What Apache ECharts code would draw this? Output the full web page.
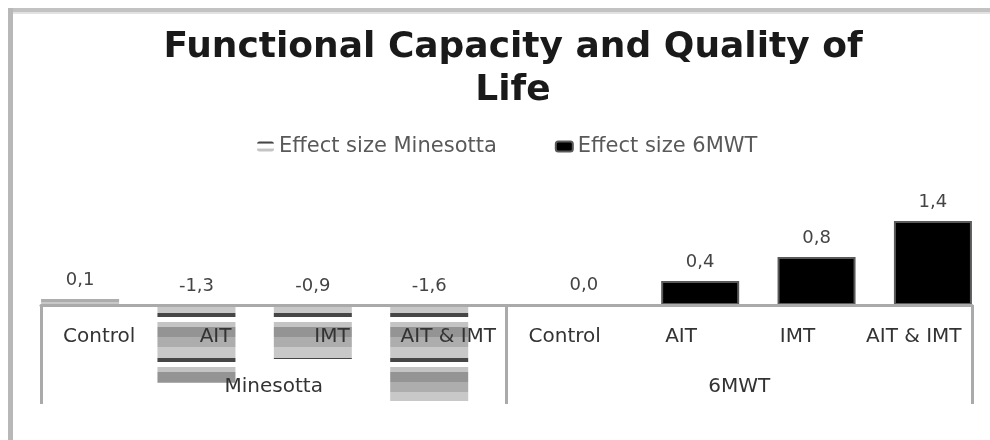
<!DOCTYPE html>
<html>
<head>
<meta charset="utf-8">
<script src="https://cdn.jsdelivr.net/npm/echarts@6/dist/echarts.min.js"></script>
<style>
  html, body { margin: 0; padding: 0; background: #fff; }
  #chart { width: 990px; height: 440px; }
</style>
</head>
<body>
<div id="chart"></div>
<script>
// chart data
var categories = ['Control', 'AIT', 'IMT', 'AIT & IMT', 'Control', 'AIT', 'IMT', 'AIT & IMT'];
var groups = ['Minesotta', '6MWT'];
var minesotta = [0.1, -1.3, -0.9, -1.6, null, null, null, null];
var sixMWT = [null, null, null, null, 0.0, 0.4, 0.8, 1.4];

// striped fill like the excel pattern (45px period, anchored to the canvas)
function stripes() {
  var c = document.createElement('canvas');
  c.width = 8;
  c.height = 45;
  var ctx = c.getContext('2d');
  for (var r = 0; r < 45; r++) {
    var d = (r + 2) % 45;
    var col = '#c8c8c8';
    if (d < 4) col = '#464646';
    else if (d < 9) col = '#ffffff';
    else if (d < 14) col = '#c4c4c4';
    else if (d < 24) col = '#949494';
    else if (d < 34) col = '#adadad';
    ctx.fillStyle = col;
    ctx.fillRect(0, r, 8, 1);
  }
  return c;
}

var labelFmt = function (p) {
  if (p.value == null) return '';
  return p.value.toFixed(1).replace('.', ',');
};

var chartDom = document.getElementById('chart');
var myChart = echarts.init(chartDom);
var option = {
  backgroundColor: '#fff',
  animation: false,
  title: {
    text: 'Functional Capacity and Quality of\nLife',
    left: 508,
    textAlign: 'center',
    top: 21,
    textStyle: {
      fontFamily: 'DejaVu Sans',
      fontWeight: 'bold',
      fontSize: 36,
      lineHeight: 43,
      color: '#1a1a1a'
    }
  },
  legend: {
    left: 252,
    top: 131,
    itemWidth: 17,
    itemHeight: 10,
    itemGap: 58,
    textStyle: {
      fontFamily: 'DejaVu Sans',
      fontSize: 21,
      color: '#595959'
    },
    data: ['Effect size Minesotta', 'Effect size 6MWT']
  },
  // grid bottom sits on the zero line, negative bars hang below it (clip off)
  grid: {
    left: 41,
    right: 18,
    top: 215,
    bottom: 135,
    containLabel: false,
    outerBoundsMode: 'none'
  },
  xAxis: [
    {
      type: 'category',
      data: categories,
      z: 10,
      axisLine: { lineStyle: { color: '#aaaaaa', width: 3 } },
      axisTick: { show: false },
      axisLabel: {
        interval: 0,
        margin: 22,
        fontFamily: 'DejaVu Sans',
        fontSize: 20,
        color: '#333'
      }
    },
    {
      type: 'category',
      data: groups,
      position: 'bottom',
      z: 10,
      axisLine: { show: false },
      axisTick: { show: true, length: 99, lineStyle: { color: '#aaaaaa', width: 3 } },
      axisLabel: {
        margin: 72,
        fontFamily: 'DejaVu Sans',
        fontSize: 20,
        color: '#333'
      }
    }
  ],
  yAxis: {
    type: 'value',
    min: 0,
    max: 1.5,
    show: false
  },
  series: [
    {
      name: 'Effect size Minesotta',
      type: 'bar',
      barWidth: 78,
      barGap: '-51%',
      clip: false,
      data: minesotta,
      itemStyle: {
        color: { image: stripes(), repeat: 'repeat' }
      },
      label: {
        show: true,
        position: 'top',
        distance: 10,
        formatter: labelFmt,
        fontFamily: 'DejaVu Sans',
        fontSize: 18,
        color: '#444'
      }
    },
    {
      name: 'Effect size 6MWT',
      type: 'bar',
      barWidth: 78,
      clip: false,
      data: sixMWT,
      itemStyle: {
        color: '#000',
        borderColor: '#5a5a5a',
        borderWidth: 2
      },
      label: {
        show: true,
        position: 'top',
        distance: 10,
        formatter: labelFmt,
        fontFamily: 'DejaVu Sans',
        fontSize: 18,
        color: '#444'
      }
    }
  ],
  graphic: [
    { type: 'rect', shape: { x: 8, y: 8, width: 982, height: 4 }, style: { fill: '#c2c2c2' } },
    { type: 'rect', shape: { x: 8, y: 12, width: 982, height: 2 }, style: { fill: '#e2e2e2' } },
    { type: 'rect', shape: { x: 8, y: 8, width: 5, height: 432 }, style: { fill: '#b8b8b8' } }
  ]
};
myChart.setOption(option);
</script>
</body>
</html>
